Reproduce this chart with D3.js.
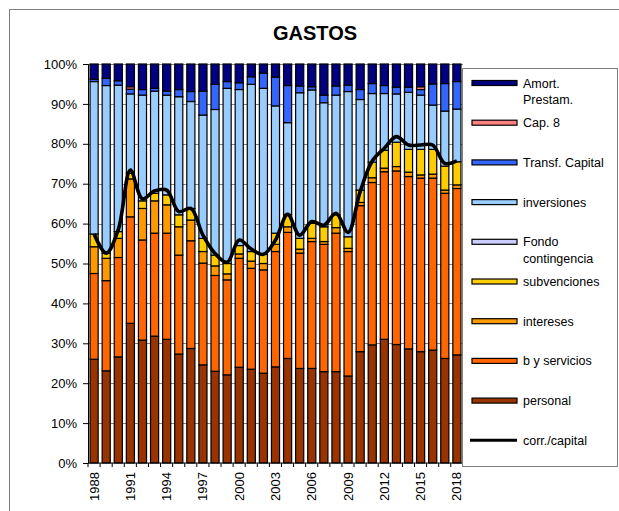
<!DOCTYPE html>
<html>
<head>
<meta charset="utf-8">
<script src="https://cdn.jsdelivr.net/npm/d3@7"></script>
<style>
  body { margin: 0; background: #fff; }
  svg text { font-family: "Liberation Sans", Arial, sans-serif; fill: #000; }
</style>
</head>
<body>
<div id="chart"></div>
<script>
//Datos
const years = d3.range(1988, 2019);
const personal     = [26.0,23.1,26.6,35.0,30.8,31.8,31.0,27.3,28.7,24.6,23.0,22.1,24.0,23.5,22.5,24.1,26.2,23.7,23.7,22.9,22.9,21.8,27.9,29.6,31.0,29.7,28.6,27.9,28.3,26.2,27.1];
const byServicios  = [21.5,22.6,24.9,26.7,25.1,25.8,26.6,24.8,27.0,25.5,24.0,23.8,27.3,25.3,25.9,28.9,31.6,28.9,31.8,31.9,34.7,31.2,36.6,40.7,42.0,43.5,43.2,43.5,43.1,41.4,41.7];
const intereses    = [6.7,5.6,4.8,9.5,7.9,8.1,7.1,7.1,5.2,2.9,2.4,1.5,1.1,1.8,1.6,1.8,1.4,1.0,0.8,0.7,1.4,0.8,0.8,1.2,0.9,1.1,1.1,0.8,1.0,0.8,0.9];
const subvenciones = [3.2,1.3,1.7,1.4,1.9,1.9,2.5,3.0,2.9,3.3,2.7,2.6,2.1,2.4,2.3,2.8,3.1,2.7,3.8,3.7,3.2,2.9,3.1,3.9,4.5,6.1,5.7,6.4,6.2,6.0,5.8];
const fondoCont    = [0,0,0,0,0,0,0,0,0,0,0,0,0,0,0,0,0,0,0,0,0,0,0,0,0,0,0,0,0,0,0];
const inversiones  = [38.2,42.0,36.7,19.9,26.5,25.6,25.0,29.6,26.8,30.9,36.5,43.9,39.1,41.9,41.6,31.9,23.0,36.5,33.4,31.1,30.0,36.4,22.7,17.2,14.2,12.1,14.3,13.6,11.1,13.8,13.2];
const transfCap    = [0.6,1.8,1.1,1.2,1.4,0.7,1.0,1.8,2.5,6.0,6.3,1.7,1.7,1.9,3.8,7.2,9.3,1.7,0.8,1.9,2.3,1.6,2.5,2.5,2.0,1.7,1.3,1.4,5.3,6.9,6.9];
const cap8         = [0,0,0,0.6,0,0,0,0,0,0,0,0,0,0,0,0,0,0,0,0,0,0,0,0,0,0,0,0.7,0,0,0];
const amortPrest   = [3.8,3.6,4.2,5.7,6.4,6.1,6.8,6.4,6.9,6.8,5.1,4.4,4.7,3.2,2.3,3.3,5.4,5.5,5.7,7.8,5.5,5.3,6.4,4.9,5.4,5.8,5.8,5.7,5.0,4.9,4.4];
const corrCapital  = [57.4,52.6,58.5,73.4,66.2,68.2,68.4,63.0,63.8,57.1,52.5,50.3,55.9,53.6,52.3,55.9,62.3,57.1,60.5,59.6,62.6,57.8,68.0,75.7,78.9,81.8,79.7,79.7,79.7,75.1,75.7];

const series = [
  {key: 'personal', name: ['personal'], values: personal, color: '#993300'},
  {key: 'bys', name: ['b y servicios'], values: byServicios, color: '#FF6600'},
  {key: 'int', name: ['intereses'], values: intereses, color: '#FF9900'},
  {key: 'subv', name: ['subvenciones'], values: subvenciones, color: '#FFCC00'},
  {key: 'fondo', name: ['Fondo', 'contingencia'], values: fondoCont, color: '#CCCCFF'},
  {key: 'inv', name: ['inversiones'], values: inversiones, color: '#99CCFF'},
  {key: 'transf', name: ['Transf. Capital'], values: transfCap, color: '#3366FF'},
  {key: 'cap8', name: ['Cap. 8'], values: cap8, color: '#FF8080'},
  {key: 'amort', name: ['Amort.', 'Prestam.'], values: amortPrest, color: '#000080'}
];

let table = years.map(function(y, i) {
  let row = {year: y};
  series.forEach(function(s) { row[s.key] = s.values[i]; });
  return row;
});

let W = 619, H = 511;
let margin = {top: 64, right: 156, bottom: 48, left: 88};
let width = W - margin.left - margin.right,
    height = H - margin.top - margin.bottom;

let svgRoot = d3.select('#chart').append('svg')
  .attr('width', W).attr('height', H);

//Marco exterior
svgRoot.append('rect')
  .attr('x', 9.5).attr('y', 9.5)
  .attr('width', 640).attr('height', 540)
  .attr('fill', 'none').attr('stroke', '#808080');

//Titulo
svgRoot.append('text')
  .attr('x', 315).attr('y', 40)
  .attr('text-anchor', 'middle')
  .style('font-size', '20px').style('font-weight', 'bold')
  .text('GASTOS');

let svg = svgRoot.append('g')
  .attr('transform', 'translate(' + margin.left + ',' + margin.top + ')');

let x = d3.scaleBand()
  .domain(years)
  .range([0, width])
  .paddingInner(0.33).paddingOuter(0.17);

let y = d3.scaleLinear().domain([0, 1]).range([height, 0]);

//Rejilla
svg.append('g').selectAll('line')
  .data(y.ticks(10).filter(function(d) { return d > 0; }))
  .enter().append('line')
  .attr('x1', 0).attr('x2', width)
  .attr('y1', function(d) { return Math.round(y(d)) + 0.5; })
  .attr('y2', function(d) { return Math.round(y(d)) + 0.5; })
  .attr('stroke', '#808080').attr('stroke-width', 1);

let stacked = d3.stack()
  .keys(series.map(function(s) { return s.key; }))
  .offset(d3.stackOffsetExpand)(table);

svg.append('g').selectAll('g')
  .data(stacked)
  .enter().append('g')
  .attr('fill', function(d, i) { return series[i].color; })
  .selectAll('rect')
  .data(function(d) { return d.filter(function(p) { return p[1] - p[0] > 0; }); })
  .enter().append('rect')
  .attr('x', function(d) { return x(d.data.year); })
  .attr('width', x.bandwidth())
  .attr('y', function(d) { return y(d[1]); })
  .attr('height', function(d) { return y(d[0]) - y(d[1]); })
  .attr('stroke', '#000').attr('stroke-width', 1.2);

//Ejes
let yAxis = svg.append('g')
  .call(d3.axisLeft(y).ticks(10).tickFormat(d3.format('.0%')).tickSize(5).tickPadding(6));
yAxis.select('.domain').attr('stroke', '#000');
yAxis.selectAll('text').style('font-size', '13px').style('font-family', '"Liberation Sans", Arial, sans-serif');

let xAxis = svg.append('g')
  .attr('transform', 'translate(0,' + height + ')');
xAxis.append('line')
  .attr('x1', 0).attr('x2', width)
  .attr('stroke', '#000');
xAxis.selectAll('.tk')
  .data(years.concat([2019]))
  .enter().append('line')
  .attr('x1', function(d, i) { return i * x.step(); })
  .attr('x2', function(d, i) { return i * x.step(); })
  .attr('y1', 0).attr('y2', 4)
  .attr('stroke', '#000');
xAxis.selectAll('.lbl')
  .data(years.filter(function(d) { return (d - 1988) % 3 === 0; }))
  .enter().append('text')
  .attr('transform', function(d) {
    return 'translate(' + (x(d) + x.bandwidth() / 2 + 4.5) + ',9) rotate(-90)';
  })
  .attr('text-anchor', 'end')
  .style('font-size', '13px')
  .text(function(d) { return d; });

//Linea corr./capital
let line = d3.line()
  .x(function(d, i) { return x(years[i]) + x.bandwidth() / 2; })
  .y(function(d) { return y(d / 100); })
  .curve(d3.curveCatmullRom.alpha(0.5));

svg.append('path')
  .datum(corrCapital)
  .attr('d', line)
  .attr('fill', 'none')
  .attr('stroke', '#000')
  .attr('stroke-width', 3.6)
  .attr('stroke-linejoin', 'round');

//Leyenda
let legend = svgRoot.append('g');
legend.append('rect')
  .attr('x', 462.5).attr('y', 68.5)
  .attr('width', 155).attr('height', 398)
  .attr('fill', '#fff').attr('stroke', '#808080');

let legendItems = series.slice().reverse().map(function(s) { return {name: s.name, color: s.color}; });
legendItems.push({name: ['corr./capital'], color: null});

legendItems.forEach(function(d, i) {
  let cy = 83 + i * 39.7;
  let g = legend.append('g');
  if (d.color) {
    g.append('rect')
      .attr('x', 472).attr('y', cy - 2.5)
      .attr('width', 45).attr('height', 5)
      .attr('fill', d.color).attr('stroke', '#000').attr('stroke-width', 1.2);
  } else {
    g.append('line')
      .attr('x1', 470).attr('x2', 517)
      .attr('y1', cy).attr('y2', cy)
      .attr('stroke', '#000').attr('stroke-width', 3);
  }
  d.name.forEach(function(t, j) {
    g.append('text')
      .attr('x', 523).attr('y', cy + 4.5 + j * 16.5)
      .style('font-size', '12.5px')
      .text(t);
  });
});
</script>
</body>
</html>
